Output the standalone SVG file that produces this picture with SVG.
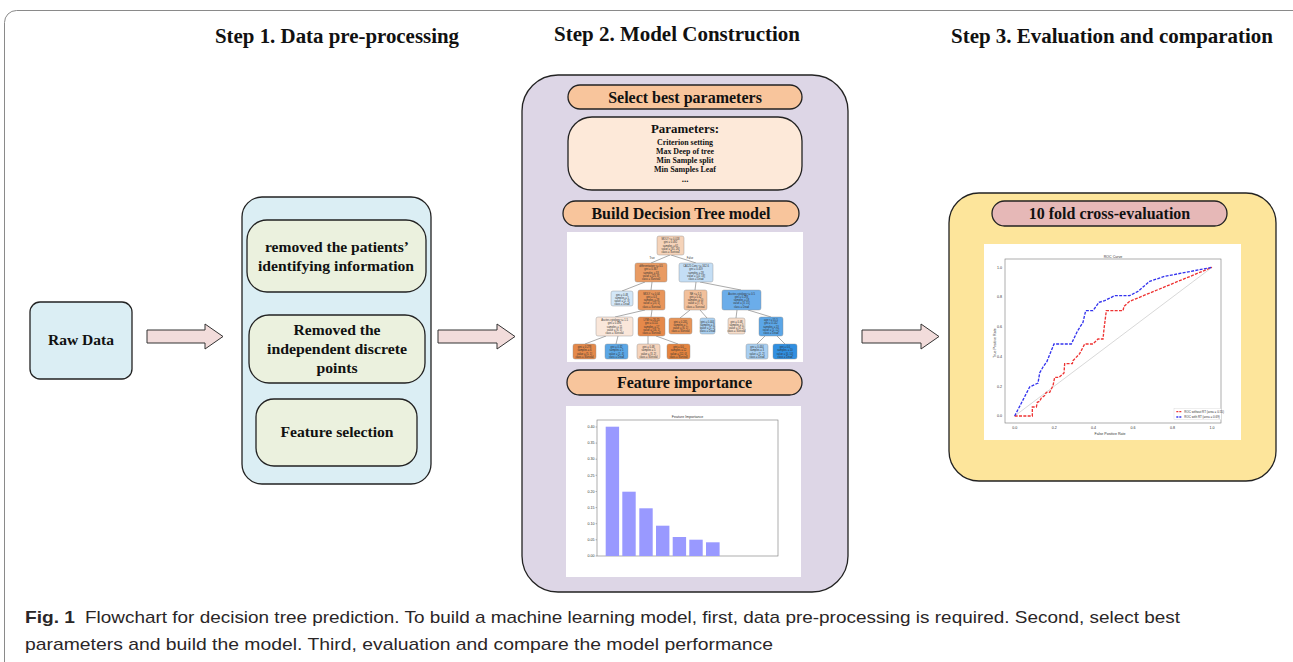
<svg xmlns="http://www.w3.org/2000/svg" width="1293" height="662" viewBox="0 0 1293 662">
<defs>
<style>
.st{font-family:"Liberation Serif",serif;font-weight:bold;fill:#111;text-anchor:middle}
.bx{stroke:#222;stroke-width:1.3}
.arrow{fill:#f2dcdb;stroke:#333;stroke-width:1}
.tn{stroke:#8a8a8a;stroke-width:0.4}
.tt{font-family:"Liberation Sans",sans-serif;font-size:2.6px;fill:#333;text-anchor:middle}
.ax{font-family:"Liberation Sans",sans-serif;font-size:3.6px;fill:#333}
.edge{stroke:#555;stroke-width:0.5;fill:none}
.cap{font-family:"Liberation Sans Narrow","Liberation Sans",sans-serif;font-size:17px;fill:#2a2627}
</style>
</defs>
<rect x="0" y="0" width="1293" height="662" fill="#ffffff"/>
<rect x="4.5" y="10.5" width="1320" height="700" rx="12" fill="none" stroke="#8a8a8a" stroke-width="1"/>

<g id="titles">
<text class="st" x="337" y="43" font-size="20" textLength="244" lengthAdjust="spacingAndGlyphs">Step 1. Data pre-processing</text>
<text class="st" x="677" y="41" font-size="20" textLength="246" lengthAdjust="spacingAndGlyphs">Step 2. Model Construction</text>
<text class="st" x="1112" y="43" font-size="20" textLength="322" lengthAdjust="spacingAndGlyphs">Step 3. Evaluation and comparation</text>
</g>

<g id="raw-data">
<rect class="bx" x="30" y="302" width="102" height="77" rx="10" fill="#dbeef4"/>
<text class="st" x="81" y="345" font-size="15.5" textLength="66" lengthAdjust="spacingAndGlyphs">Raw Data</text>
</g>

<g id="step1">
<rect class="bx" x="242" y="197" width="189" height="287" rx="20" fill="#dbeef4"/>
<g id="step1-identify">
<rect class="bx" x="247" y="220" width="179" height="72" rx="20" fill="#ebf1de"/>
<text class="st" x="337" y="252" font-size="15.5" textLength="144" lengthAdjust="spacingAndGlyphs">removed the patients’</text>
<text class="st" x="336" y="271" font-size="15.5" textLength="156" lengthAdjust="spacingAndGlyphs">identifying information</text>
</g>
<g id="step1-discrete">
<rect class="bx" x="249" y="315" width="176" height="68" rx="20" fill="#ebf1de"/>
<text class="st" x="337" y="335" font-size="15.5" textLength="87" lengthAdjust="spacingAndGlyphs">Removed the</text>
<text class="st" x="337" y="354" font-size="15.5" textLength="140" lengthAdjust="spacingAndGlyphs">independent discrete</text>
<text class="st" x="337" y="373" font-size="15.5" textLength="41" lengthAdjust="spacingAndGlyphs">points</text>
</g>
<g id="step1-feature">
<rect class="bx" x="256" y="399" width="161" height="67" rx="18" fill="#ebf1de"/>
<text class="st" x="337" y="437" font-size="15.5" textLength="113" lengthAdjust="spacingAndGlyphs">Feature selection</text>
</g>
</g>

<g id="step2">
<rect class="bx" x="522" y="75" width="326" height="517" rx="36" fill="#ddd6e6"/>
<g id="select-params">
<rect class="bx" x="568" y="85" width="234" height="24" rx="12" fill="#f8c59c"/>
<text class="st" x="685" y="102.5" font-size="16">Select best parameters</text>
</g>
<g id="params">
<rect class="bx" x="568" y="117" width="234" height="73" rx="24" fill="#fde9d9"/>
<text class="st" x="685" y="133" font-size="13.5" textLength="68" lengthAdjust="spacingAndGlyphs">Parameters:</text>
<text class="st" x="685" y="144.5" font-size="9" textLength="56" lengthAdjust="spacingAndGlyphs">Criterion setting</text>
<text class="st" x="685" y="153.5" font-size="9" textLength="58" lengthAdjust="spacingAndGlyphs">Max Deep of tree</text>
<text class="st" x="685" y="162.5" font-size="9" textLength="57" lengthAdjust="spacingAndGlyphs">Min Sample split</text>
<text class="st" x="685" y="171.5" font-size="9" textLength="62" lengthAdjust="spacingAndGlyphs">Min Samples Leaf</text>
<text class="st" x="685" y="182" font-size="9">...</text>
</g>
<g id="build-model">
<rect class="bx" x="563" y="201" width="236" height="25" rx="12.5" fill="#f8c59c"/>
<text class="st" x="681" y="219" font-size="16">Build Decision Tree model</text>
</g>
<g id="tree-plot">
<rect x="567" y="232" width="236" height="130" fill="#ffffff"/>
<g class="edge">
<line x1="670" y1="255" x2="651" y2="263"/>
<line x1="671" y1="255" x2="696" y2="263"/>
<line x1="645" y1="282" x2="622" y2="291"/>
<line x1="652" y1="282" x2="651" y2="290"/>
<line x1="696" y1="282" x2="695" y2="290"/>
<line x1="700" y1="282" x2="741" y2="290"/>
<line x1="645" y1="310" x2="615" y2="317"/>
<line x1="652" y1="310" x2="651" y2="317"/>
<line x1="690" y1="310" x2="680" y2="318"/>
<line x1="700" y1="310" x2="707" y2="318"/>
<line x1="737" y1="310" x2="736" y2="318"/>
<line x1="748" y1="310" x2="771" y2="317"/>
<line x1="606" y1="336" x2="585" y2="344"/>
<line x1="618" y1="336" x2="616" y2="344"/>
<line x1="648" y1="336" x2="648" y2="344"/>
<line x1="656" y1="336" x2="678" y2="344"/>
<line x1="765" y1="336" x2="757" y2="344"/>
<line x1="777" y1="336" x2="785" y2="344"/>
</g>
<text class="tt" x="652" y="259">True</text>
<text class="tt" x="690" y="259">False</text>
<g id="t-root"><rect class="tn" x="657" y="236" width="27" height="19" rx="2" fill="#f5d3b9"/>
<text class="tt" x="670.5" y="240">MOLY &lt;= 0.018</text><text class="tt" x="670.5" y="243.3">gini = 0.492</text><text class="tt" x="670.5" y="246.6">samples = 61</text><text class="tt" x="670.5" y="249.9">value = [35, 26]</text><text class="tt" x="670.5" y="253.2">class = Survival</text></g>
<g id="t-l1a"><rect class="tn" x="635" y="263" width="32" height="19" rx="2" fill="#e99b63"/>
<text class="tt" x="651" y="267">differentiation &lt;= 0.5</text><text class="tt" x="651" y="270.3">gini = 0.367</text><text class="tt" x="651" y="273.6">samples = 33</text><text class="tt" x="651" y="276.9">value = [25, 8]</text><text class="tt" x="651" y="280.2">class = Survival</text></g>
<g id="t-l1b"><rect class="tn" x="679" y="263" width="34" height="19" rx="2" fill="#c4def5"/>
<text class="tt" x="696" y="267">CA125 Conc &lt;= 342.6</text><text class="tt" x="696" y="270.3">gini = 0.459</text><text class="tt" x="696" y="273.6">samples = 28</text><text class="tt" x="696" y="276.9">value = [10, 18]</text><text class="tt" x="696" y="280.2">class = Dead</text></g>
<g id="t-a"><rect class="tn" x="611" y="291" width="22" height="15" rx="2" fill="#d3e7f8"/>
<text class="tt" x="622" y="295.5">gini = 0.48</text><text class="tt" x="622" y="298.8">samples = 5</text><text class="tt" x="622" y="302.1">value = [2, 3]</text><text class="tt" x="622" y="305.2">class = Dead</text></g>
<g id="t-b"><rect class="tn" x="638" y="290" width="27" height="20" rx="2" fill="#e8955a"/>
<text class="tt" x="651.5" y="294.5">MOLY &lt;= 0.04</text><text class="tt" x="651.5" y="297.8">gini = 0.3</text><text class="tt" x="651.5" y="301.1">samples = 28</text><text class="tt" x="651.5" y="304.4">value = [23, 5]</text><text class="tt" x="651.5" y="307.7">class = Survival</text></g>
<g id="t-c"><rect class="tn" x="684" y="290" width="23" height="20" rx="2" fill="#f2c09b"/>
<text class="tt" x="695.5" y="294.5">NE &lt;= 5.5</text><text class="tt" x="695.5" y="297.8">gini = 0.42</text><text class="tt" x="695.5" y="301.1">samples = 10</text><text class="tt" x="695.5" y="304.4">value = [7, 3]</text><text class="tt" x="695.5" y="307.7">class = Survival</text></g>
<g id="t-d"><rect class="tn" x="722" y="290" width="39" height="20" rx="2" fill="#6badea"/>
<text class="tt" x="741.5" y="294.5">Ascites cytology &lt;= 0.5</text><text class="tt" x="741.5" y="297.8">gini = 0.293</text><text class="tt" x="741.5" y="301.1">samples = 18</text><text class="tt" x="741.5" y="304.4">value = [3, 15]</text><text class="tt" x="741.5" y="307.7">class = Dead</text></g>
<g id="t-e"><rect class="tn" x="596" y="317" width="37" height="19" rx="2" fill="#fae7da"/>
<text class="tt" x="614.5" y="321">Ascites cytology &lt;= 1.5</text><text class="tt" x="614.5" y="324.3">gini = 0.496</text><text class="tt" x="614.5" y="327.6">samples = 11</text><text class="tt" x="614.5" y="330.9">value = [6, 5]</text><text class="tt" x="614.5" y="334.2">class = Survival</text></g>
<g id="t-f"><rect class="tn" x="638" y="317" width="27" height="19" rx="2" fill="#e6894a"/>
<text class="tt" x="651.5" y="321">LYM &lt;= 20.15</text><text class="tt" x="651.5" y="324.3">gini = 0.111</text><text class="tt" x="651.5" y="327.6">samples = 17</text><text class="tt" x="651.5" y="330.9">value = [16, 1]</text><text class="tt" x="651.5" y="334.2">class = Survival</text></g>
<g id="t-g"><rect class="tn" x="669" y="318" width="23" height="16" rx="2" fill="#e89457"/>
<text class="tt" x="680.5" y="322.5">gini = 0.245</text><text class="tt" x="680.5" y="325.8">samples = 7</text><text class="tt" x="680.5" y="329.1">value = [6, 1]</text><text class="tt" x="680.5" y="332.4">class = Survival</text></g>
<g id="t-h"><rect class="tn" x="700" y="318" width="15" height="16" rx="2" fill="#aad0f1"/>
<text class="tt" x="707.5" y="322.5">gini = 0.444</text><text class="tt" x="707.5" y="325.8">samples = 3</text><text class="tt" x="707.5" y="329.1">value = [1, 2]</text><text class="tt" x="707.5" y="332.4">class = Dead</text></g>
<g id="t-i"><rect class="tn" x="728" y="318" width="17" height="16" rx="2" fill="#f7ddc9"/>
<text class="tt" x="736.5" y="322.5">gini = 0.48</text><text class="tt" x="736.5" y="325.8">samples = 5</text><text class="tt" x="736.5" y="329.1">value = [3, 2]</text><text class="tt" x="736.5" y="332.4">class = Survival</text></g>
<g id="t-j"><rect class="tn" x="759" y="317" width="24" height="19" rx="2" fill="#5ba6e7"/>
<text class="tt" x="771" y="321">age &lt;= 55.5</text><text class="tt" x="771" y="324.3">gini = 0.142</text><text class="tt" x="771" y="327.6">samples = 13</text><text class="tt" x="771" y="330.9">value = [1, 12]</text><text class="tt" x="771" y="334.2">class = Dead</text></g>
<g id="t-k"><rect class="tn" x="573" y="344" width="23" height="15" rx="2" fill="#e5894a"/>
<text class="tt" x="584.5" y="348.2">gini = 0.278</text><text class="tt" x="584.5" y="351.4">samples = 6</text><text class="tt" x="584.5" y="354.6">value = [5, 1]</text><text class="tt" x="584.5" y="357.8">class = Survival</text></g>
<g id="t-l"><rect class="tn" x="605" y="344" width="23" height="15" rx="2" fill="#5ba7e6"/>
<text class="tt" x="616.5" y="348.2">gini = 0.32</text><text class="tt" x="616.5" y="351.4">samples = 5</text><text class="tt" x="616.5" y="354.6">value = [1, 4]</text><text class="tt" x="616.5" y="357.8">class = Dead</text></g>
<g id="t-m"><rect class="tn" x="637" y="344" width="23" height="15" rx="2" fill="#f5d4bc"/>
<text class="tt" x="648.5" y="348.2">gini = 0.48</text><text class="tt" x="648.5" y="351.4">samples = 5</text><text class="tt" x="648.5" y="354.6">value = [3, 2]</text><text class="tt" x="648.5" y="357.8">class = Survival</text></g>
<g id="t-n"><rect class="tn" x="667" y="344" width="23" height="15" rx="2" fill="#e5843f"/>
<text class="tt" x="678.5" y="348.2">gini = 0.0</text><text class="tt" x="678.5" y="351.4">samples = 12</text><text class="tt" x="678.5" y="354.6">value = [12, 0]</text><text class="tt" x="678.5" y="357.8">class = Survival</text></g>
<g id="t-o"><rect class="tn" x="746" y="344" width="22" height="15" rx="2" fill="#a9cff1"/>
<text class="tt" x="757" y="348.2">gini = 0.444</text><text class="tt" x="757" y="351.4">samples = 3</text><text class="tt" x="757" y="354.6">value = [1, 2]</text><text class="tt" x="757" y="357.8">class = Dead</text></g>
<g id="t-p"><rect class="tn" x="773" y="344" width="24" height="15" rx="2" fill="#308fe1"/>
<text class="tt" x="785" y="348.2">gini = 0.0</text><text class="tt" x="785" y="351.4">samples = 10</text><text class="tt" x="785" y="354.6">value = [0, 10]</text><text class="tt" x="785" y="357.8">class = Dead</text></g>
</g>
<g id="feature-importance-label">
<rect class="bx" x="567" y="370" width="235" height="25" rx="12.5" fill="#f8c59c"/>
<text class="st" x="684.5" y="388" font-size="16">Feature importance</text>
</g>
<g id="feature-chart">
<rect x="566" y="406" width="235" height="171" fill="#ffffff"/>
<text class="ax" x="687.5" y="418" text-anchor="middle" font-size="4.2">Feature Importance</text>
<rect x="597" y="420" width="181" height="136" fill="none" stroke="#777" stroke-width="0.6"/>
<g fill="#9999ff">
<rect x="605.7" y="426.7" width="13.4" height="129.3"/>
<rect x="622.3" y="491.7" width="13.4" height="64.3"/>
<rect x="639.3" y="508.3" width="13.4" height="47.7"/>
<rect x="656" y="525.7" width="13.4" height="30.3"/>
<rect x="672.7" y="537" width="13.4" height="19"/>
<rect x="689.3" y="539.7" width="13.4" height="16.3"/>
<rect x="706" y="542.3" width="13.6" height="13.7"/>
</g>
<g stroke="#555" stroke-width="0.4">
<line x1="595.5" y1="427" x2="597" y2="427"/><line x1="595.5" y1="443.1" x2="597" y2="443.1"/>
<line x1="595.5" y1="459.2" x2="597" y2="459.2"/><line x1="595.5" y1="475.3" x2="597" y2="475.3"/>
<line x1="595.5" y1="491.5" x2="597" y2="491.5"/><line x1="595.5" y1="507.6" x2="597" y2="507.6"/>
<line x1="595.5" y1="523.7" x2="597" y2="523.7"/><line x1="595.5" y1="539.8" x2="597" y2="539.8"/>
<line x1="595.5" y1="556" x2="597" y2="556"/>
</g>
<g class="ax" text-anchor="end" font-size="3.2">
<text x="594.5" y="428.2">0.40</text><text x="594.5" y="444.3">0.35</text><text x="594.5" y="460.4">0.30</text>
<text x="594.5" y="476.5">0.25</text><text x="594.5" y="492.7">0.20</text><text x="594.5" y="508.8">0.15</text>
<text x="594.5" y="524.9">0.10</text><text x="594.5" y="541">0.05</text><text x="594.5" y="557.2">0.00</text>
</g>
</g>
</g>

<g id="step3">
<rect class="bx" x="949" y="193" width="327" height="288" rx="30" fill="#fde59b"/>
<g id="cross-eval">
<rect class="bx" x="992" y="201" width="235" height="25" rx="12.5" fill="#e6b8b7"/>
<text class="st" x="1109.5" y="219" font-size="16">10 fold cross-evaluation</text>
</g>
<g id="roc-chart">
<rect x="984" y="244" width="257" height="196" fill="#ffffff"/>
<text class="ax" x="1113" y="258" text-anchor="middle" font-size="3.8">ROC Curve</text>
<rect x="1005" y="259" width="216" height="164" fill="none" stroke="#777" stroke-width="0.6"/>
<g transform="translate(983 243) scale(0.33333)">
<line x1="95" y1="519" x2="687" y2="73" stroke="#b0b0b0" stroke-width="1.5"/>
<polyline fill="none" stroke="#ee3333" stroke-width="4" stroke-dasharray="9 4" points="95,519 148,519 148,492 160,492 163,478 170,475 175,465 185,458 190,448 200,448 210,428 215,403 228,403 243,390 245,362 268,362 270,353 290,332 305,303 330,303 345,288 360,288 363,258 370,203 420,203 423,190 440,175 687,73"/>
<polyline fill="none" stroke="#3333ee" stroke-width="4" stroke-dasharray="9 4" points="95,519 140,432 165,420 170,390 180,372 192,355 213,303 265,303 283,265 300,238 308,203 330,203 348,178 365,173 395,158 440,158 465,145 500,115 545,100 687,73"/>
<rect x="573" y="497" width="142" height="33" fill="#ffffff" stroke="#cccccc" stroke-width="1"/>
<line x1="580" y1="506" x2="598" y2="506" stroke="#ee3333" stroke-width="4" stroke-dasharray="6 3"/>
<line x1="580" y1="522" x2="598" y2="522" stroke="#3333ee" stroke-width="4" stroke-dasharray="6 3"/>
<text x="604" y="509" font-family="Liberation Sans, sans-serif" font-size="9" fill="#333">ROC without RT  (area = 0.55)</text>
<text x="604" y="525" font-family="Liberation Sans, sans-serif" font-size="9" fill="#333">ROC with RT       (area = 0.69)</text>
</g>
<g class="ax" text-anchor="end" font-size="3.2">
<text x="1002" y="417.2">0.0</text><text x="1002" y="387.5">0.2</text><text x="1002" y="357.8">0.4</text>
<text x="1002" y="328">0.6</text><text x="1002" y="298.3">0.8</text><text x="1002" y="268.5">1.0</text>
</g>
<g class="ax" text-anchor="middle" font-size="3.2">
<text x="1014.7" y="429">0.0</text><text x="1054.2" y="429">0.2</text><text x="1093.6" y="429">0.4</text>
<text x="1133.1" y="429">0.6</text><text x="1172.5" y="429">0.8</text><text x="1212" y="429">1.0</text>
</g>
<text class="ax" x="1110" y="435" text-anchor="middle" font-size="3.4">False Positive Rate</text>
<text class="ax" x="996" y="343" text-anchor="middle" font-size="3.4" transform="rotate(-90 996 343)">True Positive Rate</text>
</g>
</g>

<g id="connectors">
<path class="arrow" d="M147,330 H205 V324 L223,336.5 L205,349 V343 H147 Z"/>
<path class="arrow" d="M438,330 H497 V324 L515,336.5 L497,349 V343 H438 Z"/>
<path class="arrow" d="M862,330 H921 V324 L939,336.5 L921,349 V343 H862 Z"/>
</g>

<g id="caption">
<text class="cap" x="25" y="623" font-weight="bold" textLength="50" lengthAdjust="spacingAndGlyphs">Fig. 1</text>
<text class="cap" x="85" y="623" textLength="1095" lengthAdjust="spacingAndGlyphs">Flowchart for decision tree prediction. To build a machine learning model, first, data pre-processing is required. Second, select best</text>
<text class="cap" x="25" y="650" textLength="748" lengthAdjust="spacingAndGlyphs">parameters and build the model. Third, evaluation and compare the model performance</text>
</g>
</svg>
